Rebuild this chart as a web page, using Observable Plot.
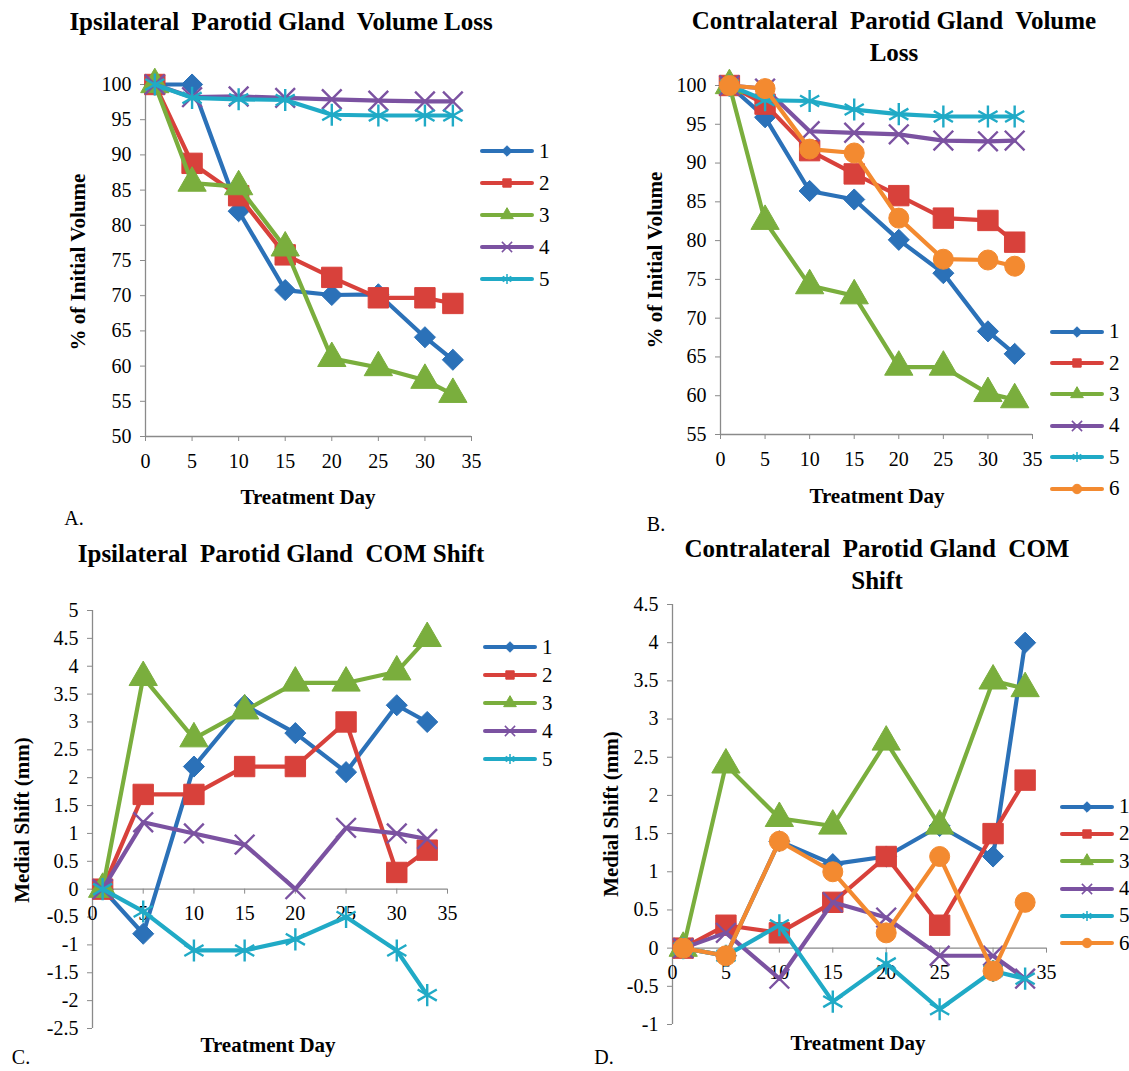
<!DOCTYPE html>
<html>
<head>
<meta charset="utf-8">
<script src="https://cdn.jsdelivr.net/npm/d3@7"></script>
<script src="https://cdn.jsdelivr.net/npm/@observablehq/plot@0.6"></script>
<style>
  body { margin: 0; background: #fff; }
  #fig { position: relative; width: 1129px; height: 1071px; background: #fff; overflow: hidden;
         font-family: "Liberation Serif", "Times New Roman", serif; color: #000; }
  .abs { position: absolute; white-space: pre; line-height: 1; }
  .title { font-weight: bold; font-size: 25px; text-align: center; line-height: 32px; }
  .axt { font-weight: bold; font-size: 21px; }
  .tag { font-size: 20px; }
  .legend { position: absolute; display: flex; flex-direction: column; }
  .legend .row { display: flex; align-items: center; font-size: 21px; }
  .legend svg { display: block; margin-right: 5px; }
  .panel { position: absolute; }
  .panel svg { overflow: visible; }
  .panel svg, .panel svg text { font-family: "Liberation Serif", "Times New Roman", serif !important; }
</style>
</head>
<body>
<div id="fig"></div>
<script>
// Treatment days at which each gland was measured
const days = [1, 5, 10, 15, 20, 25, 30, 33];

// Patient labels, colours and marker symbols
const patients = ["1", "2", "3", "4", "5", "6"];
const colors = ["#2b71b8", "#d8413b", "#7aae3d", "#7b52a1", "#20aac6", "#f38a30"];
const symbols = ["diamond2", "square", "triangle", "times", "asterisk", "circle"];
const markerR = [9.5, 11.5, 10.5, 9, 10.5, 10];

// % of initial volume, ipsilateral parotid (patients 1–5)
const ipsiVolume = [
  [100, 100, 82.0, 70.8, 70.1, 70.2, 64.1, 60.9],
  [100, 88.8, 84.2, 75.8, 72.6, 69.7, 69.7, 68.9],
  [100, 86.0, 85.5, 76.8, 61.1, 59.8, 58.0, 56.0],
  [100, 98.2, 98.3, 98.1, 97.9, 97.7, 97.6, 97.6],
  [100, 98.1, 97.9, 97.8, 95.7, 95.6, 95.6, 95.6]
];

// % of initial volume, contralateral parotid (patients 1–6)
const contraVolume = [
  [100, 95.9, 86.4, 85.3, 80.1, 75.8, 68.3, 65.4],
  [100, 97.6, 91.6, 88.6, 85.8, 82.9, 82.6, 79.8],
  [100, 82.5, 74.2, 72.9, 63.7, 63.7, 60.3, 59.5],
  [100, 99.6, 94.1, 93.9, 93.7, 92.9, 92.8, 92.9],
  [100, 98.1, 98.0, 96.9, 96.3, 96.0, 96.0, 96.0],
  [100, 99.6, 91.8, 91.3, 82.9, 77.6, 77.5, 76.7]
];

// Medial centre-of-mass shift (mm), ipsilateral parotid
const ipsiShift = [
  [0, -0.8, 2.2, 3.3, 2.8, 2.1, 3.3, 3.0],
  [0, 1.7, 1.7, 2.2, 2.2, 3.0, 0.3, 0.7],
  [0, 3.8, 2.7, 3.2, 3.7, 3.7, 3.9, 4.5],
  [0, 1.2, 1.0, 0.8, 0.0, 1.1, 1.0, 0.9],
  [0, -0.4, -1.1, -1.1, -0.9, -0.5, -1.1, -1.9]
];

// Medial centre-of-mass shift (mm), contralateral parotid
const contraShift = [
  [0, -0.1, 1.4, 1.1, 1.2, 1.6, 1.2, 4.0],
  [0, 0.3, 0.2, 0.6, 1.2, 0.3, 1.5, 2.2],
  [0, 2.4, 1.7, 1.6, 2.7, 1.6, 3.5, 3.4],
  [0, 0.2, -0.4, 0.6, 0.4, -0.1, -0.1, -0.4],
  [0, -0.1, 0.3, -0.7, -0.2, -0.8, -0.3, -0.4],
  [0, -0.1, 1.4, 1.0, 0.2, 1.2, -0.3, 0.6]
];

// Tick labels
const dayTicks = [0, 5, 10, 15, 20, 25, 30, 35];
const volTicksA = [50, 55, 60, 65, 70, 75, 80, 85, 90, 95, 100];
const volTicksB = [55, 60, 65, 70, 75, 80, 85, 90, 95, 100];
const shiftTicksC = [-2.5, -2, -1.5, -1, -0.5, 0, 0.5, 1, 1.5, 2, 2.5, 3, 3.5, 4, 4.5, 5];
const shiftTicksD = [-1, -0.5, 0, 0.5, 1, 1.5, 2, 2.5, 3, 3.5, 4, 4.5];

const AXIS = "#8a8a8a";
const SERIF = "'Liberation Serif', 'Times New Roman', serif";
const fig = document.getElementById("fig");

function place(text, x, y, cls, rotate) {
  const el = document.createElement("div");
  el.className = "abs " + cls;
  el.textContent = text;
  el.style.left = x + "px";
  el.style.top = y + "px";
  el.style.transform = "translate(-50%, -50%)" + (rotate ? " rotate(-90deg)" : "");
  fig.appendChild(el);
}

function seriesMarks(values) {
  const marks = [];
  values.forEach((vals, s) => {
    const data = vals.map((v, i) => ({day: days[i], value: v}));
    const sym = symbols[s];
    const open = sym === "times" || sym === "asterisk";
    marks.push(Plot.line(data, {x: "day", y: "value", stroke: colors[s], strokeWidth: 4.2, strokeLinejoin: "round"}));
    marks.push(Plot.dot(data, {
      x: "day", y: "value", symbol: sym, r: markerR[s],
      fill: open ? "none" : colors[s], stroke: colors[s], strokeWidth: open ? 2.4 : 1
    }));
  });
  return marks;
}

function panel({values, yDomain, yTicks, frame, zeroAxis}) {
  const ml = 70, mr = 12, mt = 16, mb = 44;
  const marks = [
    Plot.ruleX([0], {stroke: AXIS, strokeWidth: 1.3}),
    Plot.axisY(yTicks, {tickSize: 5, tickPadding: 9, stroke: AXIS, fill: "#000", label: null,
                        fontFamily: SERIF, tickFormat: d => String(d)})
  ];
  if (zeroAxis) {
    marks.push(
      Plot.ruleY([0], {stroke: AXIS, strokeWidth: 1.3}),
      Plot.ruleX(dayTicks, {x: d => d, y1: () => 0, y2: () => 0, insetBottom: -5, stroke: AXIS}),
      Plot.text(dayTicks, {x: d => d, y: () => 0, dy: 24, text: d => String(d), fill: "#000", fontFamily: SERIF})
    );
  } else {
    marks.push(
      Plot.ruleY([yDomain[0]], {stroke: AXIS, strokeWidth: 1.3}),
      Plot.axisX(dayTicks, {tickSize: 5, tickPadding: 12, stroke: AXIS, fill: "#000", label: null, fontFamily: SERIF})
    );
  }
  marks.push(...seriesMarks(values));
  const svg = Plot.plot({
    width: frame.w + ml + mr,
    height: frame.h + mt + mb,
    marginLeft: ml, marginRight: mr, marginTop: mt, marginBottom: mb,
    x: {domain: [0, 35], axis: zeroAxis ? null : undefined},
    y: {domain: yDomain},
    style: {fontFamily: SERIF, fontSize: "20px", background: "transparent", overflow: "visible", color: "#000"},
    marks
  });
  const wrap = document.createElement("div");
  wrap.className = "panel";
  wrap.style.left = (frame.x - ml) + "px";
  wrap.style.top = (frame.y - mt) + "px";
  wrap.appendChild(svg);
  fig.appendChild(wrap);
}

function legend(count, x, y, rowH) {
  const box = document.createElement("div");
  box.className = "legend";
  box.style.left = x + "px";
  box.style.top = y + "px";
  const typeMap = {diamond2: d3.symbolDiamond2, square: d3.symbolSquare, triangle: d3.symbolTriangle,
                   times: d3.symbolTimes, asterisk: d3.symbolAsterisk, circle: d3.symbolCircle};
  for (let s = 0; s < count; s++) {
    const row = document.createElement("div");
    row.className = "row";
    row.style.height = rowH + "px";
    const sw = d3.create("svg").attr("width", 54).attr("height", 16);
    sw.append("line").attr("x1", 2).attr("x2", 52).attr("y1", 8).attr("y2", 8)
      .attr("stroke", colors[s]).attr("stroke-width", 4).attr("stroke-linecap", "round");
    const open = symbols[s] === "times" || symbols[s] === "asterisk";
    sw.append("path").attr("transform", "translate(27,8)")
      .attr("d", d3.symbol(typeMap[symbols[s]], 70)())
      .attr("fill", open ? "none" : colors[s]).attr("stroke", colors[s]).attr("stroke-width", open ? 1.5 : 1);
    row.appendChild(sw.node());
    const t = document.createElement("span");
    t.textContent = patients[s];
    row.appendChild(t);
    box.appendChild(row);
  }
  fig.appendChild(box);
}

// A. Ipsilateral volume
panel({values: ipsiVolume, yDomain: [50, 100], yTicks: volTicksA, frame: {x: 145, y: 84, w: 326, h: 352}});
place("Ipsilateral  Parotid Gland  Volume Loss", 281, 22, "title");
place("% of Initial Volume", 78, 262, "axt", true);
place("Treatment Day", 308, 497, "axt");
place("A.", 74, 518, "tag");
legend(5, 480, 135, 32);

// B. Contralateral volume
panel({values: contraVolume, yDomain: [55, 100], yTicks: volTicksB, frame: {x: 720, y: 85, w: 312, h: 349}});
place("Contralateral  Parotid Gland  Volume\nLoss", 894, 37, "title");
place("% of Initial Volume", 655, 260, "axt", true);
place("Treatment Day", 877, 496, "axt");
place("B.", 656, 524, "tag");
legend(6, 1050, 316, 31.4);

// C. Ipsilateral COM shift
panel({values: ipsiShift, yDomain: [-2.5, 5], yTicks: shiftTicksC, frame: {x: 92, y: 610, w: 355, h: 418}, zeroAxis: true});
place("Ipsilateral  Parotid Gland  COM Shift", 281, 554, "title");
place("Medial Shift (mm)", 22, 820, "axt", true);
place("Treatment Day", 268, 1045, "axt");
place("C.", 21, 1057, "tag");
legend(5, 483, 633, 28);

// D. Contralateral COM shift
panel({values: contraShift, yDomain: [-1, 4.5], yTicks: shiftTicksD, frame: {x: 672, y: 604, w: 374, h: 420}, zeroAxis: true});
place("Contralateral  Parotid Gland  COM\nShift", 877, 565, "title");
place("Medial Shift (mm)", 611, 814, "axt", true);
place("Treatment Day", 858, 1043, "axt");
place("D.", 604, 1057, "tag");
legend(6, 1060, 793, 27.3);
</script>
</body>
</html>
